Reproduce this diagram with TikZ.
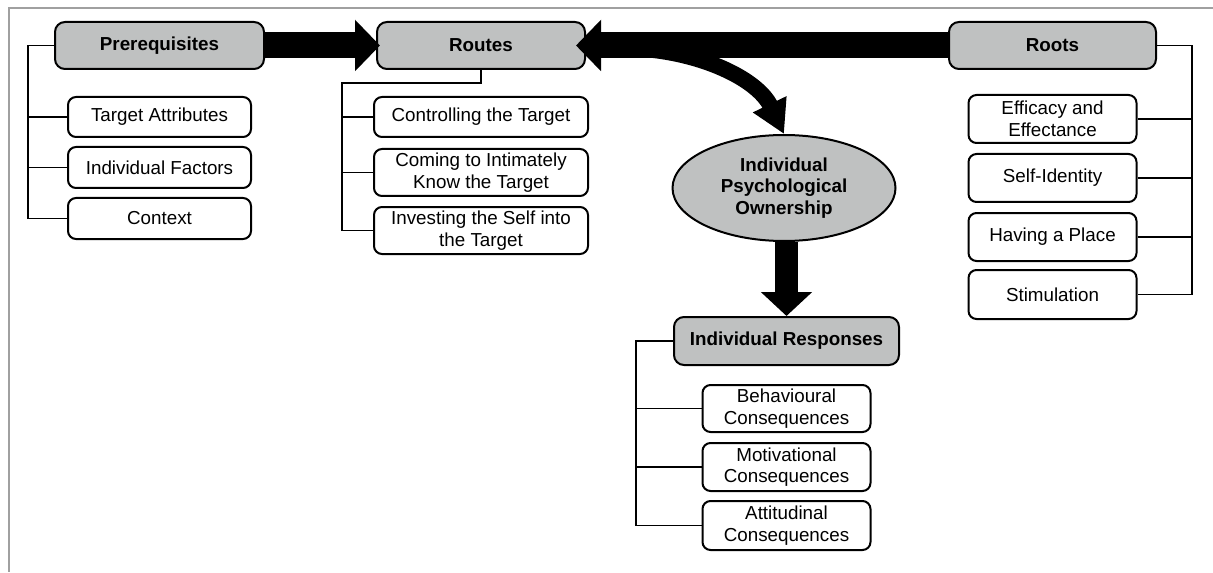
\documentclass[tikz,border=0pt]{standalone}
\usepackage{fontspec}
\setmainfont{Liberation Sans}
\usetikzlibrary{arrows.meta,positioning,shapes.geometric}
\definecolor{hdr}{HTML}{BFC1C1}
\definecolor{frm}{HTML}{A0A0A0}
\newcommand{\boxfont}{\fontsize{9.4}{10.8}\selectfont}
\newcommand{\hdrfont}{\fontsize{9.4}{10.8}\selectfont\bfseries}
\tikzset{
  box/.style={draw,line width=1pt,rounded corners=4pt,fill=white,align=center,inner sep=1.5pt,font=\boxfont},
  hbox/.style={box,fill=hdr,rounded corners=5pt,font=\hdrfont,minimum height=23.5pt},
  own/.style={ellipse,draw,line width=1pt,fill=hdr,align=center,inner sep=0pt,font=\hdrfont},
  ln/.style={line width=0.9pt},
  big/.style={line width=13pt,-{Triangle[width=25pt,length=12.5pt]}},
}

\begin{document}
\begin{tikzpicture}[x=0.5pt,y=-0.5pt]
  \useasboundingbox (0,0) rectangle (1213,572);
  \draw[frm,line width=1pt] (1213,8) -- (9,8) -- (9,572);

  % headers
  \node[hbox,minimum width=104.5pt] (pre) at (159.5,45.5) {Prerequisites};
  \node[hbox,minimum width=104pt] (rts) at (481,45.5) {Routes};
  \node[hbox,minimum width=103.5pt] (roo) at (1052.5,45.5) {Roots};
  \node[own,minimum width=111.5pt,minimum height=53pt] (ipo) at (784,188) {Individual\\Psychological\\Ownership};
  \node[hbox,minimum width=112.5pt,minimum height=24pt] (ir) at (786.5,341) {Individual Responses};

  % prerequisites
  \node[box,minimum width=91.5pt,minimum height=20pt,below=13pt of pre] (ta) {Target Attributes};
  \node[box,minimum width=91.5pt,minimum height=20.5pt,below=4pt of ta] (fac) {Individual Factors};
  \node[box,minimum width=91.5pt,minimum height=20.5pt,below=4pt of fac] (ctx) {Context};

  % routes
  \node[box,minimum width=107pt,minimum height=20pt,below=13pt of rts] (ctl) {Controlling the Target};
  \node[box,minimum width=107pt,minimum height=23.5pt,below=5pt of ctl] (com) {Coming to Intimately\\Know the Target};
  \node[box,minimum width=107pt,minimum height=23.5pt,below=4.5pt of com] (inv) {Investing the Self into\\the Target};

  % roots
  \node[box,minimum width=84pt,minimum height=24pt,below=12pt of roo] (eff) {Efficacy and\\Effectance};
  \node[box,minimum width=84pt,minimum height=24pt,below=4.5pt of eff] (sid) {Self-Identity};
  \node[box,minimum width=84pt,minimum height=24pt,below=4.5pt of sid] (hap) {Having a Place};
  \node[box,minimum width=84pt,minimum height=24.5pt,below=3.5pt of hap] (sti) {Stimulation};

  % responses
  \node[box,minimum width=84pt,minimum height=23.5pt,below=9pt of ir] (beh) {Behavioural\\Consequences};
  \node[box,minimum width=84pt,minimum height=24pt,below=4.5pt of beh] (mot) {Motivational\\Consequences};
  \node[box,minimum width=84pt,minimum height=24.5pt,below=4pt of mot] (att) {Attitudinal\\Consequences};

  % brackets
  \coordinate[left=13pt of pre.west] (pbus);
  \draw[ln] (pre.west) -- (pbus) |- (ctx.west);
  \foreach \n in {ta,fac} \draw[ln] (\n.west) -- (\n.west -| pbus);

  \coordinate[below=6.5pt of rts.south] (rknee);
  \coordinate[left=15.5pt of ctl.west] (rbus);
  \draw[ln] (rts.south) -- (rknee) -- (rknee -| rbus) |- (inv.west);
  \foreach \n in {ctl,com} \draw[ln] (\n.west) -- (\n.west -| rbus);

  \coordinate[right=17.5pt of roo.east] (obus);
  \draw[ln] (roo.east) -- (obus) |- (sti.east);
  \foreach \n in {eff,sid,hap} \draw[ln] (\n.east) -- (\n.east -| obus);

  \coordinate[left=18.5pt of ir.west] (ibus);
  \draw[ln] (ir.west) -- (ibus) |- (att.west);
  \foreach \n in {beh,mot} \draw[ln] (\n.west) -- (\n.west -| ibus);

  % block arrows
  \draw[big,shorten >=-2pt] (pre) -- (rts);
  \draw[big,shorten >=-5pt] (roo) -- (rts);
  \coordinate (fork) at (620,48);
  \draw[line width=8pt,-{Triangle[width=17.5pt,length=16.5pt]}] (fork) .. controls (695,48) and (757,78) .. (ipo.north);
  \draw[line width=11.5pt,-{Triangle[width=25pt,length=12pt]}] (ipo.south -| ir.north) -- (ir.north);
\end{tikzpicture}
\end{document}
